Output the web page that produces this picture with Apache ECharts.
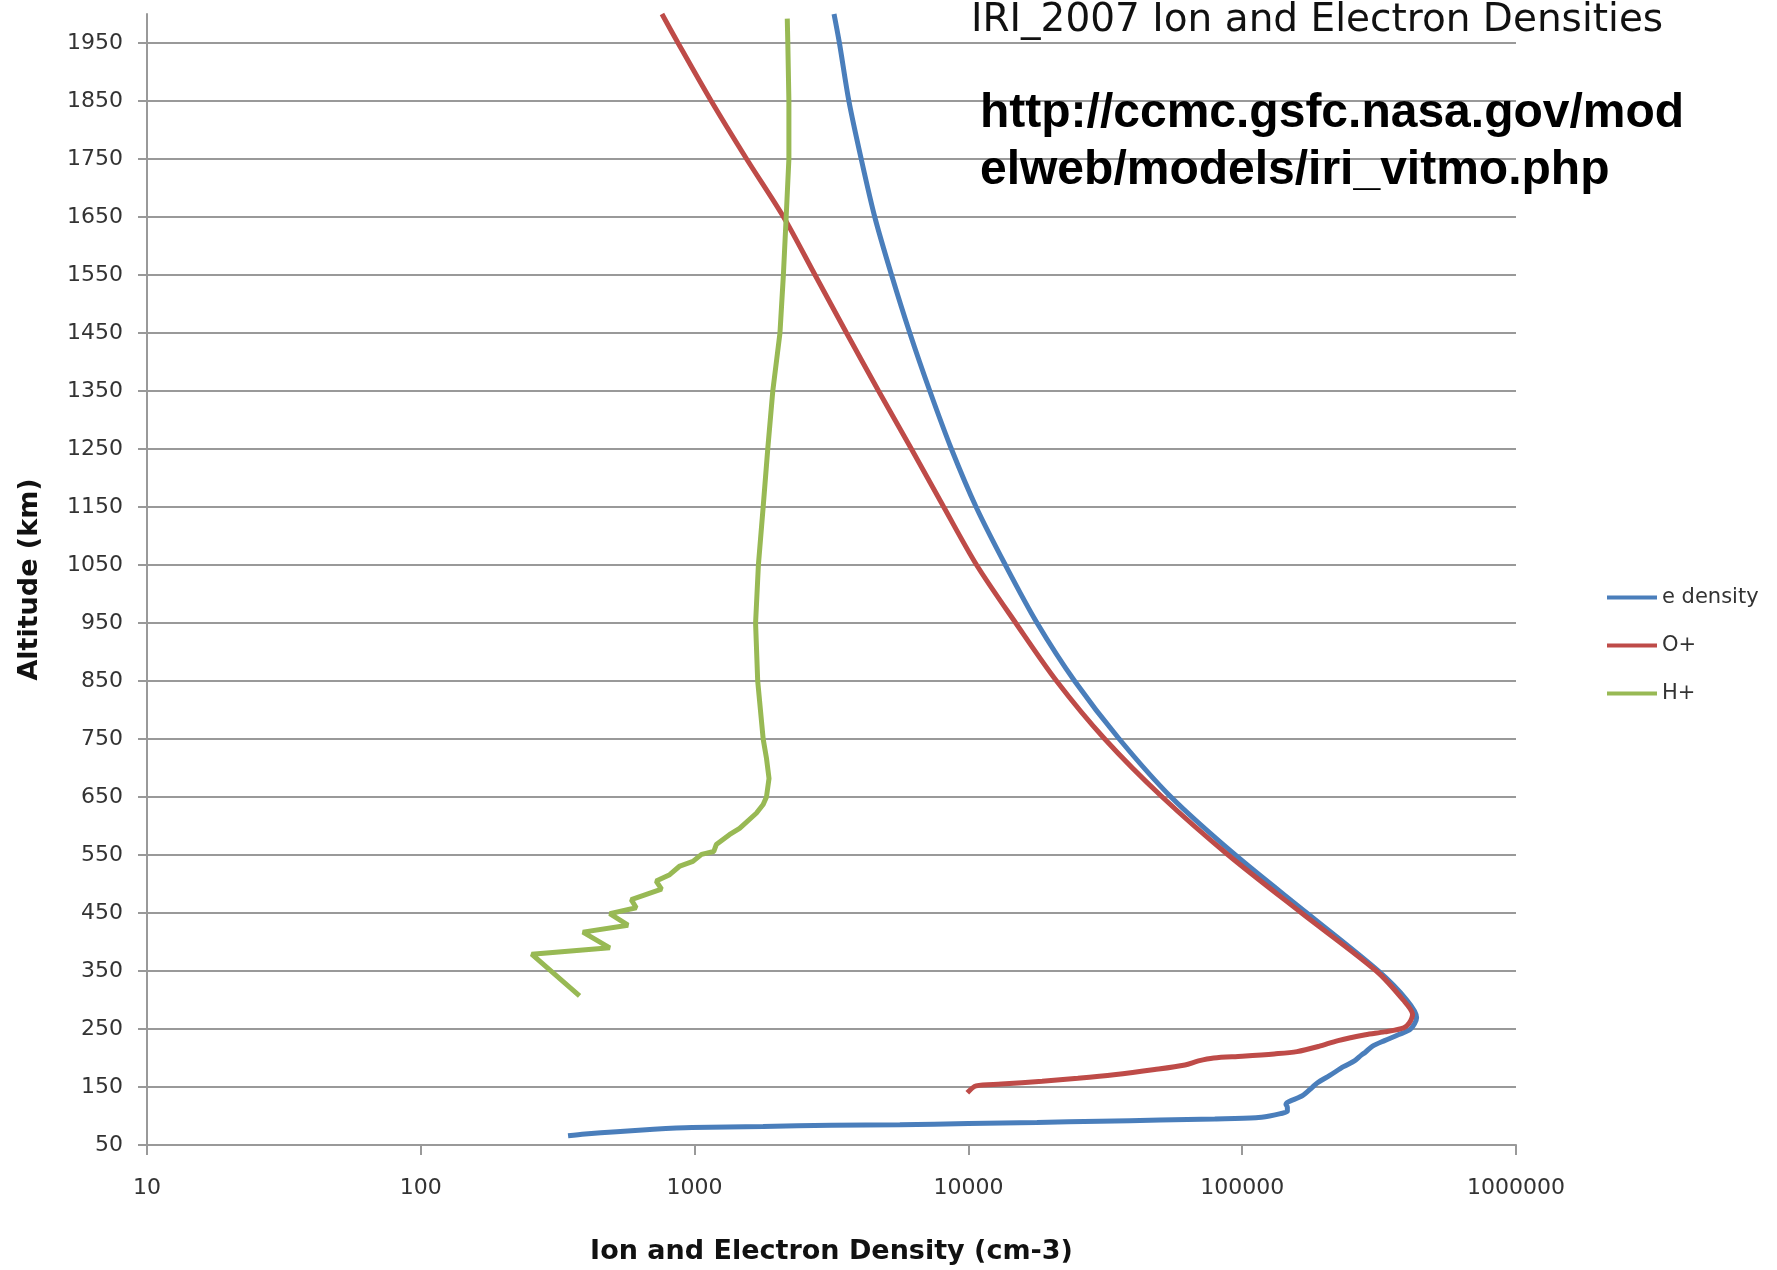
<!DOCTYPE html>
<html>
<head>
<meta charset="utf-8">
<title>IRI_2007 Ion and Electron Densities</title>
<script src="https://cdn.jsdelivr.net/npm/echarts@6/dist/echarts.min.js"></script>
<style>
  html, body { margin: 0; padding: 0; background: #fff; }
  #myChart { width: 1777px; height: 1270px; }
</style>
</head>
<body>
<div id="myChart"></div>
<script>
// axis ticks
var yTicks = [50, 150, 250, 350, 450, 550, 650, 750, 850, 950, 1050, 1150, 1250, 1350, 1450, 1550, 1650, 1750, 1850, 1950];
var xTicks = [10, 100, 1000, 10000, 100000, 1000000];

// e density: altitude (km) / density (cm-3)
var eAlt = [2000, 1950, 1850, 1750, 1650, 1550, 1450, 1350, 1250, 1150, 1050, 950, 850, 750, 650, 550, 450, 350, 300, 270, 250, 240, 230, 220, 210, 205, 195, 185, 170, 157, 149, 135, 120, 115, 108, 104, 100, 97, 95, 93, 91, 89, 87, 85, 84, 82, 80, 77, 73, 69, 66];
var eDensity = [3230, 3380, 3660, 4060, 4550, 5240, 6110, 7230, 8670, 10670, 13650, 17820, 24430, 35560, 54950, 94400, 172200, 314100, 399000, 433500, 412100, 371500, 331100, 298500, 281800, 272300, 257000, 234400, 208900, 187900, 179900, 166000, 144500, 146200, 146200, 138000, 125900, 112200, 79400, 50100, 30200, 17800, 10000, 5620, 3160, 1780, 977, 708, 519, 398, 345];

// O+
var oAlt = [2000, 1950, 1850, 1750, 1650, 1550, 1450, 1350, 1250, 1150, 1050, 950, 850, 750, 650, 550, 450, 350, 300, 275, 260, 252, 245, 240, 230, 220, 211, 207, 203, 200, 195, 188, 180, 171, 165, 160, 155, 152, 140];
var oDensity = [760, 870, 1150, 1549, 2113, 2754, 3589, 4699, 6194, 8128, 10715, 14890, 20990, 31480, 51050, 88920, 164800, 309000, 387300, 418800, 407000, 389000, 331000, 282000, 224000, 190500, 158500, 130900, 100000, 78700, 69200, 61800, 47900, 34000, 25100, 18600, 13200, 10670, 9910];

// H+
var hAlt = [1992, 1950, 1850, 1750, 1650, 1550, 1450, 1350, 1250, 1150, 1050, 950, 850, 750, 717, 682, 650, 637, 622, 596, 585, 568, 556, 551, 539, 531, 516, 505, 491, 473, 459, 449, 429, 417, 390, 379, 307];
var hDensity = [2180, 2190, 2210, 2210, 2160, 2110, 2050, 1930, 1850, 1780, 1710, 1670, 1700, 1780, 1830, 1870, 1830, 1780, 1680, 1460, 1340, 1200, 1175, 1060, 986, 883, 811, 724, 757, 587, 612, 490, 571, 391, 490, 254, 380];

function pairs(dens, alt) {
  return alt.map(function (a, i) { return [dens[i], a]; });
}

var myChart = echarts.init(document.getElementById("myChart"));
var option = {
  backgroundColor: "#fff",
  animation: false,
  title: [
    {
      text: "IRI_2007 Ion and Electron Densities",
      left: 966,
      top: -4,
      textStyle: { fontFamily: "DejaVu Sans", fontSize: 39, fontWeight: "normal", color: "#111" }
    },
    {
      text: "http://ccmc.gsfc.nasa.gov/mod\nelweb/models/iri_vitmo.php",
      left: 975,
      top: 80,
      textStyle: { fontFamily: "Liberation Sans", fontSize: 48, fontWeight: "bold", color: "#000", lineHeight: 57 }
    }
  ],
  legend: {
    orient: "vertical",
    left: 1607,
    top: 587,
    padding: 0,
    icon: "rect",
    itemWidth: 50,
    itemHeight: 4,
    itemGap: 27,
    data: ["e density", "O+", "H+"],
    textStyle: { fontFamily: "DejaVu Sans", fontSize: 21, color: "#333" }
  },
  grid: { left: 147, right: 261, top: 14, bottom: 120, containLabel: false },
  xAxis: {
    type: "log",
    logBase: 10,
    min: 10,
    max: 1000000,
    name: "Ion and Electron Density (cm-3)",
    nameLocation: "middle",
    nameGap: 93,
    nameTextStyle: { fontFamily: "DejaVu Sans", fontSize: 27, fontWeight: "bold", color: "#111" },
    axisLine: { show: true, lineStyle: { color: "#999", width: 2 } },
    axisTick: { show: true, length: 10, lineStyle: { color: "#999", width: 2 }, customValues: xTicks },
    axisLabel: {
      margin: 32,
      fontFamily: "DejaVu Sans",
      fontSize: 22,
      color: "#333",
      customValues: xTicks,
      formatter: function (v) { return String(Math.round(v)); }
    },
    splitLine: { show: false },
    minorTick: { show: false }
  },
  yAxis: {
    type: "value",
    min: 50,
    max: 2000,
    interval: 100,
    name: "Altitude (km)",
    nameLocation: "middle",
    nameGap: 104,
    nameTextStyle: { fontFamily: "DejaVu Sans", fontSize: 27, fontWeight: "bold", color: "#111" },
    axisLine: { show: true, lineStyle: { color: "#999", width: 2 } },
    axisTick: { show: true, length: 9, lineStyle: { color: "#999", width: 2 }, customValues: yTicks },
    axisLabel: {
      margin: 24,
      fontFamily: "DejaVu Sans",
      fontSize: 22,
      color: "#333",
      customValues: yTicks,
      formatter: function (v) { return String(v); }
    },
    splitLine: { show: true, lineStyle: { color: "#999", width: 2 } }
  },
  series: [
    {
      name: "e density",
      type: "line",
      data: pairs(eDensity, eAlt),
      showSymbol: false,
      symbol: "none",
      smooth: 0.3,
      lineStyle: { color: "#4A7EBB", width: 5 },
      itemStyle: { color: "#4A7EBB" }
    },
    {
      name: "O+",
      type: "line",
      data: pairs(oDensity, oAlt),
      showSymbol: false,
      symbol: "none",
      smooth: 0.3,
      lineStyle: { color: "#BE4B48", width: 5 },
      itemStyle: { color: "#BE4B48" }
    },
    {
      name: "H+",
      type: "line",
      data: pairs(hDensity, hAlt),
      showSymbol: false,
      symbol: "none",
      smooth: false,
      lineStyle: { color: "#98B954", width: 5 },
      itemStyle: { color: "#98B954" }
    }
  ]
};
myChart.setOption(option);
</script>
</body>
</html>
